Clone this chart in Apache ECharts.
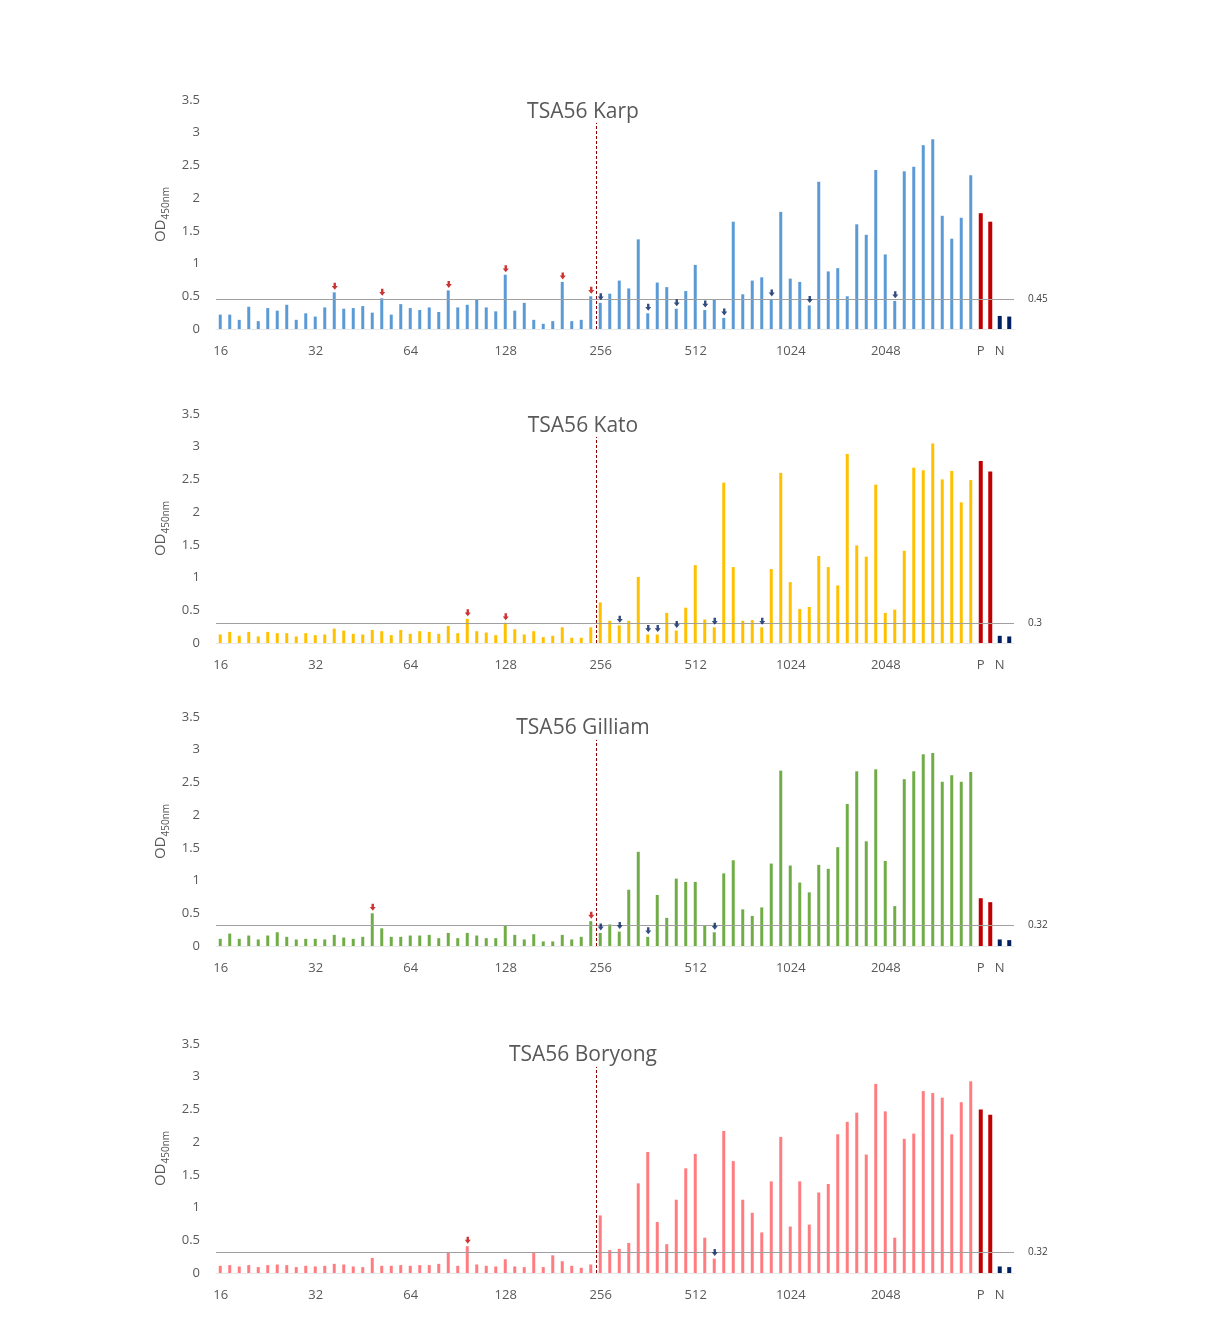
<!DOCTYPE html>
<html><head><meta charset="utf-8">
<script src="https://cdn.jsdelivr.net/npm/echarts@6/dist/echarts.min.js"></script>
<style>html,body{margin:0;padding:0;background:#fff}#c{width:1205px;height:1330px}</style>
</head><body><div id="c"></div>
<script>
// ---- data ----
const dilutionTicks = ['16','32','64','128','256','512','1024','2048'];
const controlTicks = ['P','','N',''];
const cutoffPosition = 39.5;   // between dilution 39 and 40 (category index units)
const cutoffTop = 3.15;

const karpValues = [
  0.22,0.22,0.14,0.34,0.12,0.32,0.28,0.37,0.14,0.24,
  0.19,0.33,0.56,0.31,0.32,0.35,0.25,0.47,0.22,0.38,
  0.32,0.29,0.33,0.26,0.59,0.33,0.37,0.45,0.33,0.27,
  0.83,0.28,0.40,0.14,0.08,0.12,0.72,0.12,0.14,0.50,
  0.40,0.54,0.74,0.62,1.37,0.24,0.71,0.64,0.31,0.58,
  0.98,0.29,0.45,0.17,1.64,0.53,0.74,0.79,0.46,1.79,
  0.77,0.72,0.36,2.25,0.88,0.93,0.50,1.60,1.44,2.43,
  1.14,0.43,2.41,2.48,2.81,2.90,1.73,1.38,1.70,2.35
];
const karpPos = [1.77,1.64];
const karpNeg = [0.20,0.19];
const karpThreshold = 0.45;
const karpRedArrows = [12,17,24,30,36,39];
const karpNavyArrows = [40,45,48,51,53,58,62,71];

const katoValues = [
  0.13,0.17,0.11,0.17,0.10,0.17,0.15,0.15,0.10,0.15,
  0.12,0.13,0.22,0.19,0.14,0.13,0.20,0.18,0.12,0.20,
  0.14,0.18,0.17,0.14,0.26,0.15,0.37,0.18,0.16,0.12,
  0.31,0.21,0.13,0.18,0.09,0.11,0.24,0.08,0.08,0.24,
  0.62,0.34,0.27,0.34,1.01,0.13,0.13,0.46,0.19,0.54,
  1.19,0.36,0.24,2.45,1.16,0.34,0.35,0.24,1.13,2.60,
  0.93,0.52,0.55,1.33,1.16,0.88,2.89,1.49,1.32,2.42,
  0.46,0.51,1.41,2.68,2.64,3.05,2.50,2.63,2.15,2.49
];
const katoPos = [2.78,2.62];
const katoNeg = [0.11,0.10];
const katoThreshold = 0.3;
const katoRedArrows = [26,30];
const katoNavyArrows = [42,45,46,48,52,57];

const gilliamValues = [
  0.11,0.19,0.11,0.16,0.10,0.16,0.21,0.14,0.10,0.11,
  0.11,0.10,0.17,0.13,0.11,0.14,0.50,0.27,0.14,0.14,
  0.16,0.16,0.17,0.12,0.20,0.12,0.20,0.16,0.12,0.12,
  0.31,0.17,0.10,0.18,0.07,0.07,0.17,0.10,0.14,0.38,
  0.20,0.33,0.22,0.86,1.44,0.14,0.78,0.43,1.03,0.98,
  0.98,0.32,0.21,1.11,1.31,0.56,0.46,0.59,1.26,2.68,
  1.23,0.97,0.82,1.24,1.18,1.51,2.17,2.67,1.60,2.70,
  1.30,0.61,2.55,2.67,2.93,2.95,2.51,2.61,2.51,2.66
];
const gilliamPos = [0.73,0.67];
const gilliamNeg = [0.10,0.09];
const gilliamThreshold = 0.32;
const gilliamRedArrows = [16,39];
const gilliamNavyArrows = [40,42,45,52];

const boryongValues = [
  0.11,0.12,0.10,0.12,0.09,0.12,0.13,0.12,0.09,0.11,
  0.10,0.11,0.14,0.13,0.10,0.09,0.23,0.11,0.11,0.12,
  0.11,0.12,0.12,0.14,0.31,0.11,0.41,0.13,0.11,0.10,
  0.21,0.10,0.09,0.31,0.09,0.27,0.18,0.11,0.08,0.13,
  0.88,0.35,0.37,0.46,1.37,1.85,0.78,0.44,1.12,1.60,
  1.82,0.54,0.22,2.17,1.71,1.12,0.92,0.62,1.40,2.08,
  0.71,1.40,0.74,1.23,1.36,2.12,2.31,2.45,1.81,2.89,
  2.47,0.54,2.05,2.13,2.78,2.75,2.68,2.12,2.61,2.93
];
const boryongPos = [2.50,2.42];
const boryongNeg = [0.10,0.09];
const boryongThreshold = 0.32;
const boryongRedArrows = [26];
const boryongNavyArrows = [52];

// ---- build ----
const tickLabels = [];
for (let i = 0; i < 80; i++) tickLabels.push(i % 10 === 0 ? dilutionTicks[i / 10] : '');
controlTicks.forEach(t => tickLabels.push(t));
const categories = tickLabels.map((t, i) => 'c' + i);

const FONT = '"Open Sans", "Noto Sans", sans-serif';
const posColor = '#C00000', negColor = '#002060';
const arrowPath = 'path://M3,0L7,0L7,5L10,5L5,11L0,5L3,5Z';

const panels = [
  {title:'TSA56 Karp', values:karpValues, pos:karpPos, neg:karpNeg, thr:karpThreshold, red:karpRedArrows, navy:karpNavyArrows, color:'#5B9BD5', top:100, titleTop:102},
  {title:'TSA56 Kato', values:katoValues, pos:katoPos, neg:katoNeg, thr:katoThreshold, red:katoRedArrows, navy:katoNavyArrows, color:'#FFC000', top:414, titleTop:416},
  {title:'TSA56 Gilliam', values:gilliamValues, pos:gilliamPos, neg:gilliamNeg, thr:gilliamThreshold, red:gilliamRedArrows, navy:gilliamNavyArrows, color:'#70AD47', top:717, titleTop:718},
  {title:'TSA56 Boryong', values:boryongValues, pos:boryongPos, neg:boryongNeg, thr:boryongThreshold, red:boryongRedArrows, navy:boryongNavyArrows, color:'#FF7C80', top:1044, titleTop:1045}
];

const option = {
  animation: false,
  backgroundColor: '#fff',
  textStyle: {fontFamily: FONT},
  title: [], grid: [], xAxis: [], yAxis: [], series: []
};

panels.forEach((p, k) => {
  option.title.push({
    text: p.title, left: 583, textAlign: 'center', top: p.titleTop, padding: 0,
    textStyle: {fontSize: 21, fontWeight: 'normal', color: '#595959', fontFamily: FONT}
  });
  option.grid.push({left: 216, right: 191, top: p.top, height: 229});
  option.xAxis.push({
    type: 'category', gridIndex: k, data: categories, boundaryGap: true,
    axisTick: {show: false},
    axisLine: {show: true, lineStyle: {color: '#E8E8E8'}},
    axisLabel: {interval: 0, margin: 16, fontSize: 13, color: '#595959', fontFamily: FONT,
      formatter: (v, i) => tickLabels[i]}
  });
  option.xAxis.push({type: 'value', gridIndex: k, min: -0.5, max: 83.5, show: false});
  option.yAxis.push({
    type: 'value', gridIndex: k, min: 0, max: 3.5, interval: 0.5,
    splitLine: {show: false}, axisLine: {show: false}, axisTick: {show: false},
    axisLabel: {fontSize: 13, color: '#595959', margin: 16, fontFamily: FONT},
    name: '{a|OD}{b|450nm}', nameLocation: 'middle', nameRotate: 90, nameGap: 38,
    nameTextStyle: {
      rich: {
        a: {fontSize: 15, color: '#595959', fontFamily: FONT, verticalAlign: 'bottom', lineHeight: 19},
        b: {fontSize: 10, color: '#595959', fontFamily: FONT, verticalAlign: 'bottom', lineHeight: 19, padding: [0, 0, -3, 0]}
      }
    }
  });
  const xi = 2 * k;
  option.series.push({
    type: 'bar', xAxisIndex: xi, yAxisIndex: k, barWidth: 3, barGap: '-100%',
    itemStyle: {color: p.color},
    data: p.values.concat([null, null, null, null]),
    markLine: {
      silent: true, symbol: ['none', 'none'],
      lineStyle: {color: '#A0A0A0', type: 'solid', width: 1},
      label: {show: true, position: 'end', distance: 14, formatter: String(p.thr), fontSize: 10, color: '#404040', fontFamily: FONT},
      data: [{yAxis: p.thr}]
    }
  });
  const ctrl = new Array(80).fill(null)
    .concat(p.pos.map(v => ({value: v, itemStyle: {color: posColor}})))
    .concat(p.neg.map(v => ({value: v, itemStyle: {color: negColor}})));
  option.series.push({
    type: 'bar', xAxisIndex: xi, yAxisIndex: k, barWidth: 4, barGap: '-100%', data: ctrl
  });
  option.series.push({
    type: 'scatter', xAxisIndex: xi, yAxisIndex: k, symbol: arrowPath, symbolSize: [6, 7],
    symbolOffset: [0, -6], itemStyle: {color: '#C00000'}, z: 5,
    data: p.red.map(i => [i, p.values[i]])
  });
  option.series.push({
    type: 'scatter', xAxisIndex: xi, yAxisIndex: k, symbol: arrowPath, symbolSize: [6, 7],
    symbolOffset: [0, -6], itemStyle: {color: '#002060'}, z: 5,
    data: p.navy.map(i => [i, p.values[i]])
  });
  option.series.push({
    type: 'scatter', xAxisIndex: xi + 1, yAxisIndex: k, symbolSize: 0,
    data: [[cutoffPosition, 0]],
    markLine: {
      silent: true, symbol: ['none', 'none'], label: {show: false},
      lineStyle: {color: '#8B0000', type: [3, 2], width: 1},
      data: [[{coord: [cutoffPosition, 0]}, {coord: [cutoffPosition, cutoffTop]}]]
    }
  });
});

const chart = echarts.init(document.getElementById('c'), null, {renderer: 'canvas'});
chart.setOption(option);
</script></body></html>
